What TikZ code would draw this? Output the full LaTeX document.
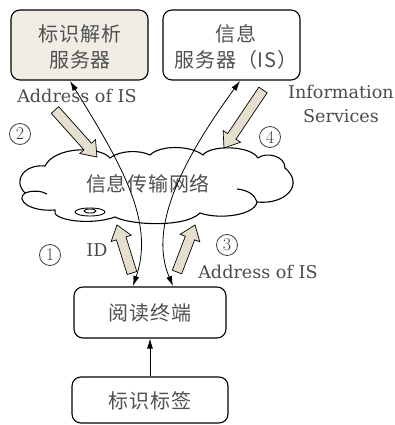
\documentclass[tikz,border=0pt]{standalone}
\usepackage{fontspec}
\newfontfamily\cjk[LetterSpace=4]{Noto Sans CJK SC}
\newfontfamily\latinserif{DejaVu Serif}
\usetikzlibrary{arrows.meta,calc}
\definecolor{boxfill}{RGB}{240,237,229}
\definecolor{fatfill}{RGB}{229,223,206}
\definecolor{txt}{RGB}{75,75,75}
\definecolor{cjktxt}{RGB}{80,80,80}
\newcommand\fatarrow[2]{%
  \coordinate (#1base) at ($(#2)!14pt!(#1)$);
  \draw[fat] ($(#1)!5pt!90:(#2)$) -- ($(#1base)!5pt!-90:(#1)$) -- ($(#1base)!10.5pt!-90:(#1)$) -- (#2)
    -- ($(#1base)!10.5pt!90:(#1)$) -- ($(#1base)!5pt!90:(#1)$) -- ($(#1)!5pt!-90:(#2)$) -- cycle;}
\begin{document}
\begin{tikzpicture}[x=1pt,y=-1pt,
  box/.style={draw, line width=1.1pt, rounded corners=9pt, inner sep=0pt},
  cjkt/.style={font=\cjk\fontsize{20}{26}\selectfont, text=cjktxt, inner sep=0pt, align=center},
  lbl/.style={font=\latinserif\fontsize{17.6}{24}\selectfont, text=txt, inner sep=0pt, align=center},
  num/.style={circle, draw=black!75, line width=0.8pt, minimum size=21pt, inner sep=0pt,
    font=\fontsize{18}{19}\selectfont, text=black!75},
  thinarrow/.style={line width=0.8pt, -{Latex[length=10pt,width=6pt]}},
  fat/.style={draw, line width=0.7pt, fill=fatfill, line join=miter},
  cloudline/.style={line width=1.1pt}]
\useasboundingbox (0,0) rectangle (394,425);

% boxes
\node[box, fill=boxfill, minimum width=137pt, minimum height=70pt] (ids) at (79.5,45) {};
\node[cjkt] (idst) at (80,47) {标识解析\\服务器};
\node[box, minimum width=137pt, minimum height=70pt] (is) at (231.5,45) {};
\node[cjkt] (ist) at (236,47) {信息\\服务器（IS）};
\node[box, minimum width=152pt, minimum height=51pt] (reader) at (150,312.5) {};
\node[cjkt] (readert) at (150,313) {阅读终端};
\node[box, minimum width=156pt, minimum height=46pt] (tag) at (150,400) {};
\node[cjkt] (tagt) at (150,401) {标识标签};

% cloud
\draw[cloudline, fill=white] (110,158)
  .. controls (100,146) and (55,146) .. (45,166)
  .. controls (25,164) and (12,180) .. (25,193)
  .. controls (15,200) and (30,212) .. (55,210)
  .. controls (50,220) and (90,226) .. (115,217)
  .. controls (130,225) and (185,228) .. (200,213)
  .. controls (220,220) and (255,215) .. (257,202)
  .. controls (285,205) and (305,185) .. (285,168)
  .. controls (285,155) and (265,152) .. (258,158)
  .. controls (250,145) and (210,145) .. (203,155)
  .. controls (190,145) and (160,145) .. (150,155)
  .. controls (140,150) and (120,150) .. (110,158) -- cycle;
\draw[cloudline] (237,189) .. controls (248,190) and (255,195) .. (257,202);
\draw[cloudline] (25,193) .. controls (33,190) and (42,191) .. (47,194);
\draw[line width=0.9pt, fill=white] (90,212) ellipse [x radius=15pt, y radius=4pt];
\draw[line width=0.9pt] (90,211) ellipse [x radius=6pt, y radius=2pt];
\node[cjkt] (net) at (148,184) {信息传输网络};

% fat arrows
\coordinate (t2) at (55,110); \coordinate (h2) at (97,157);
\coordinate (t4) at (263,90); \coordinate (h4) at (224,148);
\coordinate (t1) at (132,273); \coordinate (h1) at (117,225);
\coordinate (t3) at (177,272); \coordinate (h3) at (195,225);
\fatarrow{t2}{h2}
\fatarrow{t4}{h4}
\fatarrow{t1}{h1}
\fatarrow{t3}{h3}

% thin curved arrows
\coordinate (ra) at (133,286);
\coordinate (rb) at (173,286);
\coordinate (ia) at (70,81);
\coordinate (ib) at (240,81);
\draw[line width=0.8pt, {Latex[length=10pt,width=6pt]}-{Latex[length=10pt,width=6pt]}]
  (ia) .. controls (122,165) and (155,222) .. (ra);
\draw[line width=0.8pt, {Latex[length=10pt,width=6pt]}-{Latex[length=10pt,width=6pt]}]
  (ib) .. controls (175,170) and (150,232) .. (rb);
\draw[thinarrow] (tag) -- (reader);

% labels
\node[lbl] (l1) at (77,96) {Address of IS};
\node[lbl] (l2) at (258,272) {Address of IS};
\node[lbl] (l3) at (341,104) {Information\\Services};
\node[lbl] (l4) at (97,250) {ID};
\node[num] (n2) at (20,134) {2};
\node[num] (n4) at (270,137) {4};
\node[num] (n1) at (50,255) {1};
\node[num] (n3) at (227,245) {3};
\end{tikzpicture}
\end{document}
